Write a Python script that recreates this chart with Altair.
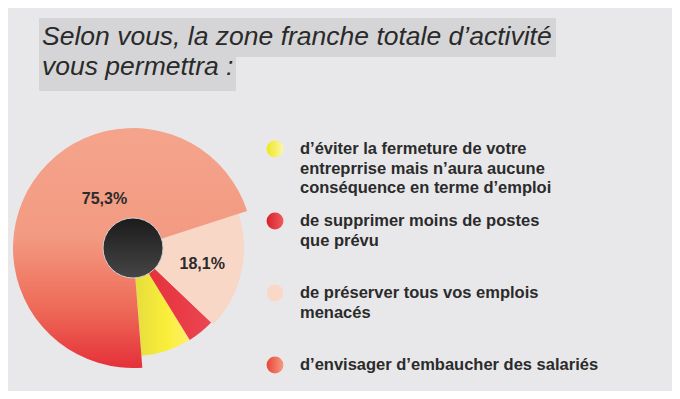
import math
import altair as alt
import pandas as pd

# ---- data (legend order) ----
keys = ["eviter", "supprimer", "preserver", "embaucher"]
categories = [
    "d’éviter la fermeture de votre\nentreprrise mais n’aura aucune\nconséquence en terme d’emploi",
    "de supprimer moins de postes\nque prévu",
    "de préserver tous vos emplois\nmenacés",
    "d’envisager d’embaucher des salariés",
]
values = [8.0, 4.3, 18.1, 75.3]
slice_order = [2, 1, 0, 3]          # clockwise order in the pie
value_labels = ["", "", "18,1%", "75,3%"]
title_lines = ["Selon vous, la zone franche totale d’activité", "vous permettra :"]

df = pd.DataFrame({
    "key": keys,
    "label": categories,
    "value": values,
    "order": slice_order,
    "idx": list(range(len(keys))),
    "pct": value_labels,
})
total = float(sum(values))

# ---- style ----
CX, CY = 125, 240
START = math.radians(72)
theta_scale = alt.Scale(domain=[0, total], range=[START, START + 2 * math.pi])
FONT = "Liberation Sans"
TXT = "#2b2b2b"


def lin(stops, horizontal=False):
    g = {"gradient": "linear", "x1": 0, "y1": 0,
         "x2": 1 if horizontal else 0, "y2": 0 if horizontal else 1,
         "stops": [{"offset": o, "color": c} for o, c in stops]}
    return g


slice_fill = {
    "eviter": lin([(0, "#e3dc3c"), (0.6, "#fbee3a"), (1, "#fdf06e")], True),
    "supprimer": lin([(0, "#e42c35"), (1, "#eb4652")], True),
    "preserver": "#f9d7c6",
    "embaucher": lin([(0, "#f5a48c"), (0.45, "#f39a82"), (0.75, "#ee6b58"), (1, "#e5303a")]),
}
slice_radius = {"eviter": 108, "supprimer": 108, "preserver": 111, "embaucher": 120}
legend_fill = {
    "eviter": lin([(0, "#efe71c"), (1, "#fbf7a8")], True),
    "supprimer": lin([(0, "#d7222b"), (1, "#ef5b5b")], True),
    "preserver": "#fad8c8",
    "embaucher": lin([(0, "#e94537"), (1, "#f59a80")], True),
}

base = alt.Chart(df).transform_window(
    cum="sum(value)", sort=[alt.SortField("order")], frame=[None, 0]
).transform_calculate(
    start="datum.cum - datum.value", mid="datum.cum - datum.value / 2"
)

dummy = pd.DataFrame({"t": title_lines})

layers = []
# title boxes
layers.append(alt.Chart(dummy).transform_filter(alt.datum.t == title_lines[0]).mark_rect(color="#d5d5d7").encode(
    x=alt.value(31), x2=alt.value(548), y=alt.value(10), y2=alt.value(49)))
layers.append(alt.Chart(dummy).transform_filter(alt.datum.t == title_lines[1]).mark_rect(color="#d5d5d7").encode(
    x=alt.value(31), x2=alt.value(228), y=alt.value(49), y2=alt.value(83)))
for i, line in enumerate(title_lines):
    layers.append(alt.Chart(dummy).transform_filter(alt.datum.t == line).mark_text(
        align="left", baseline="alphabetic", font=FONT, fontSize=26.5, fontStyle="italic",
        color="#2a2a2a").encode(x=alt.value(34), y=alt.value(37 + 30 * i), text="t:N"))

# pie slices
for k in keys:
    layers.append(base.transform_filter(alt.datum.key == k).mark_arc(
        outerRadius=slice_radius[k], fill=slice_fill[k]).encode(
        theta=alt.Theta("start:Q", scale=theta_scale), theta2="cum:Q",
        x=alt.value(CX), y=alt.value(CY)))

# center dark disc
layers.append(alt.Chart(dummy).transform_filter(alt.datum.t == title_lines[0]).mark_arc(
    outerRadius=30, fill=lin([(0, "#1b1b1b"), (1, "#464646")]), stroke="#d0d0d0", strokeWidth=1).encode(
    theta=alt.value(0), theta2=alt.value(2 * math.pi), x=alt.value(CX), y=alt.value(CY)))

# value labels
pct_style = dict(font=FONT, fontSize=16, fontWeight="bold", color=TXT, align="center", baseline="middle")
layers.append(base.transform_filter(alt.datum.key == "preserver").mark_text(**pct_style).encode(
    theta=alt.Theta("mid:Q", scale=theta_scale), radius=alt.value(71), text="pct:N",
    x=alt.value(CX), y=alt.value(CY)))
layers.append(base.transform_filter(alt.datum.key == "embaucher").mark_text(dx=18, dy=-18, **pct_style).encode(
    theta=alt.Theta("mid:Q", scale=theta_scale), radius=alt.value(56), text="pct:N",
    x=alt.value(CX), y=alt.value(CY)))

# legend
ly = alt.Y("idx:Q", scale=alt.Scale(domain=[0, 3], range=[141, 357]), axis=None)
for k in keys:
    layers.append(alt.Chart(df).transform_filter(alt.datum.key == k).mark_circle(
        size=285, fill=legend_fill[k], opacity=1, strokeWidth=0).encode(x=alt.value(267), y=ly))
layers.append(alt.Chart(df).mark_text(
    align="left", baseline="alphabetic", lineBreak="\n", lineHeight=19.5, dy=5,
    font=FONT, fontSize=16.5, fontWeight="bold", color=TXT).encode(
    x=alt.value(292), y=ly, text="label:N"))

chart = alt.layer(*layers).properties(
    width=664, height=383, autosize=alt.AutoSizeParams(type="none"), padding=0
).configure(background="#e8e8ea").configure_view(stroke=None)

chart.save("out.html", embed_options={"renderer": "svg", "actions": False})
